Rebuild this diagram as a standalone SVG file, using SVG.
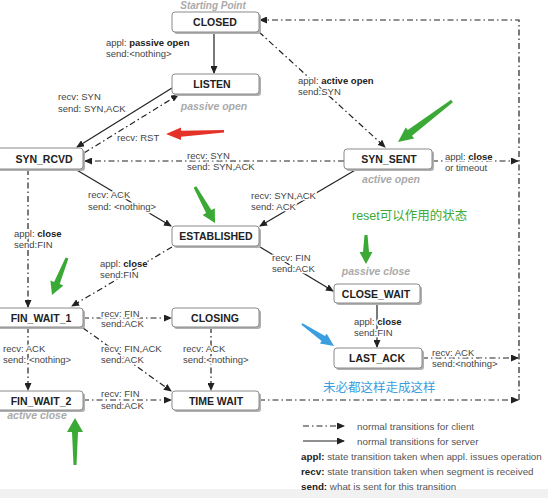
<svg xmlns="http://www.w3.org/2000/svg" width="548" height="498" viewBox="0 0 548 498">
<style>
.box{fill:#fff;stroke:#8a8a8a;stroke-width:1}
.sh{fill:#b0b0b0}
.nl{font:bold 10.5px "Liberation Sans",Arial,sans-serif;fill:#222;text-anchor:middle}
.lbl{font:9.5px "Liberation Sans",Arial,sans-serif;fill:#444;stroke:#fff;stroke-width:3;stroke-linejoin:round;paint-order:stroke}
.b{font-weight:bold;fill:#222}
.it{font:italic bold 10.5px "Liberation Sans",Arial,sans-serif;fill:#aaa;text-anchor:middle}
.solid{stroke:#222;stroke-width:1.2;fill:none}
.dd{stroke:#222;stroke-width:1.2;fill:none;stroke-dasharray:6 3 1.5 3}
.leg{font:9.8px "Liberation Sans",Arial,sans-serif;fill:#555}
.legb{font-weight:bold;fill:#222}
.cjk{font-family:"Liberation Sans","Noto Sans CJK SC",sans-serif;font-size:12.5px}
</style>
<defs>
<marker id="arr" markerUnits="userSpaceOnUse" markerWidth="8" markerHeight="7" refX="7" refY="3.5" orient="auto">
<path d="M0,0 L8,3.5 L0,7 z" fill="#222"/>
</marker>
</defs>
<rect width="548" height="498" fill="#fff"/>
<rect x="0" y="489" width="548" height="9" fill="#f1f1f1"/>

<g id="connectors">
<path class="solid" d="M214,32 V73" marker-end="url(#arr)"/>
<path class="solid" d="M172,88 L77,147" marker-end="url(#arr)"/>
<path class="dd" d="M84,153 L178,95" marker-end="url(#arr)"/>
<path class="dd" d="M344,161 H85" marker-end="url(#arr)"/>
<path class="dd" d="M259,32 L385,147" marker-end="url(#arr)"/>
<path class="solid" d="M75,169 L171,226" marker-end="url(#arr)"/>
<path class="solid" d="M357,169 L260,226" marker-end="url(#arr)"/>
<path class="dd" d="M28,169 V307" marker-end="url(#arr)"/>
<path class="dd" d="M172,247 L72,306" marker-end="url(#arr)"/>
<path class="solid" d="M260,247 L333,291" marker-end="url(#arr)"/>
<path class="solid" d="M377,303 V347" marker-end="url(#arr)"/>
<path class="dd" d="M422,358 H518" marker-end="url(#arr)"/>
<path class="dd" d="M83,318 H171" marker-end="url(#arr)"/>
<path class="dd" d="M83,328 L171,391" marker-end="url(#arr)"/>
<path class="dd" d="M211,327 V390" marker-end="url(#arr)"/>
<path class="dd" d="M28,327 V390" marker-end="url(#arr)"/>
<path class="dd" d="M83,400 H171" marker-end="url(#arr)"/>
<path class="dd" d="M259,400 H518" marker-end="url(#arr)"/>
<path class="dd" d="M432,161 H518" marker-end="url(#arr)"/>
<path class="dd" d="M519,400 V20 H260" marker-end="url(#arr)"/>

<text class="lbl" x="106" y="45.5">appl: <tspan class="b">passive open</tspan></text>
<text class="lbl" x="106" y="56.5">send:&lt;nothing&gt;</text>
<text class="lbl" x="58" y="100">recv: SYN</text>
<text class="lbl" x="58" y="111.5">send: SYN,ACK</text>
<text class="lbl" x="117" y="140.5">recv: RST</text>
<text class="lbl" x="187" y="159">recv: SYN</text>
<text class="lbl" x="187" y="169.5">send: SYN,ACK</text>
<text class="lbl" x="298" y="83.5">appl: <tspan class="b">active open</tspan></text>
<text class="lbl" x="298" y="94.5">send:SYN</text>
<text class="lbl" x="88" y="197.5">recv: ACK</text>
<text class="lbl" x="88" y="210">send: &lt;nothing&gt;</text>
<text class="lbl" x="251" y="198.5">recv: SYN,ACK</text>
<text class="lbl" x="251" y="209.5">send: ACK</text>
<text class="lbl" x="14" y="236.5">appl: <tspan class="b">close</tspan></text>
<text class="lbl" x="14" y="247.5">send:FIN</text>
<text class="lbl" x="100" y="266.5">appl: <tspan class="b">close</tspan></text>
<text class="lbl" x="100" y="278">send:FIN</text>
<text class="lbl" x="272" y="260.5">recv: FIN</text>
<text class="lbl" x="272" y="271.5">send:ACK</text>
<text class="lbl" x="354" y="324.5">appl: <tspan class="b">close</tspan></text>
<text class="lbl" x="354" y="335.5">send:FIN</text>
<text class="lbl" x="432" y="355.5">recv: ACK</text>
<text class="lbl" x="432" y="367">send:&lt;nothing&gt;</text>
<text class="lbl" x="101" y="316.5">recv: FIN</text>
<text class="lbl" x="101" y="327">send:ACK</text>
<text class="lbl" x="101" y="351.5">recv: FIN,ACK</text>
<text class="lbl" x="101" y="362.5">send:ACK</text>
<text class="lbl" x="183" y="351.5">recv: ACK</text>
<text class="lbl" x="183" y="363">send:&lt;nothing&gt;</text>
<text class="lbl" x="3" y="351.5">recv: ACK</text>
<text class="lbl" x="3" y="363">send: &lt;nothing&gt;</text>
<text class="lbl" x="101" y="396.5">recv: FIN</text>
<text class="lbl" x="101" y="409">send:ACK</text>
<text class="lbl" x="445" y="159.5">appl: <tspan class="b">close</tspan></text>
<text class="lbl" x="445" y="170.5">or timeout</text>
</g>

<g id="CLOSED">
<text class="it" x="213" y="9" style="font-size:10px">Starting Point</text>
<rect class="sh" x="174" y="14" width="87" height="20" rx="3"/>
<rect class="box" x="172" y="12" width="87" height="20" rx="3"/>
<text class="nl" x="215" y="26">CLOSED</text>
</g>
<g id="LISTEN">
<rect class="sh" x="174" y="76" width="87" height="20" rx="3"/>
<rect class="box" x="172" y="74" width="87" height="20" rx="3"/>
<text class="nl" x="212" y="88">LISTEN</text>
<text class="it" x="214" y="109.5">passive open</text>
</g>
<g id="SYN_RCVD">
<rect class="sh" x="-2" y="150" width="87" height="21" rx="3"/>
<rect class="box" x="-4" y="148" width="87" height="21" rx="3"/>
<text class="nl" x="44" y="162.5">SYN_RCVD</text>
</g>
<g id="SYN_SENT">
<rect class="sh" x="346" y="151" width="88" height="20" rx="3"/>
<rect class="box" x="344" y="149" width="88" height="20" rx="3"/>
<text class="nl" x="389" y="163">SYN_SENT</text>
<text class="it" x="391" y="182.5">active open</text>
</g>
<g id="ESTABLISHED">
<rect class="sh" x="174" y="228" width="87" height="20" rx="3"/>
<rect class="box" x="172" y="226" width="87" height="20" rx="3"/>
<text class="nl" x="216" y="240">ESTABLISHED</text>
</g>
<g id="CLOSE_WAIT">
<text class="it" x="376" y="274.5">passive close</text>
<rect class="sh" x="336" y="286" width="86" height="19" rx="3"/>
<rect class="box" x="334" y="284" width="86" height="19" rx="3"/>
<text class="nl" x="376" y="297.5">CLOSE_WAIT</text>
</g>
<g id="LAST_ACK">
<rect class="sh" x="336" y="350" width="88" height="20" rx="3"/>
<rect class="box" x="334" y="348" width="88" height="20" rx="3"/>
<text class="nl" x="377" y="362">LAST_ACK</text>
</g>
<g id="FIN_WAIT_1">
<rect class="sh" x="-2" y="310" width="87" height="19" rx="3"/>
<rect class="box" x="-4" y="308" width="87" height="19" rx="3"/>
<text class="nl" x="41" y="321.5">FIN_WAIT_1</text>
</g>
<g id="CLOSING">
<rect class="sh" x="174" y="310" width="87" height="19" rx="3"/>
<rect class="box" x="172" y="308" width="87" height="19" rx="3"/>
<text class="nl" x="215" y="321.5">CLOSING</text>
</g>
<g id="FIN_WAIT_2">
<rect class="sh" x="-2" y="393" width="87" height="19" rx="3"/>
<rect class="box" x="-4" y="391" width="87" height="19" rx="3"/>
<text class="nl" x="41" y="404.5">FIN_WAIT_2</text>
<text class="it" x="37" y="418.5">active close</text>
</g>
<g id="TIME_WAIT">
<rect class="sh" x="174" y="393" width="87" height="19" rx="3"/>
<rect class="box" x="172" y="391" width="87" height="19" rx="3"/>
<text class="nl" x="216" y="404.5">TIME WAIT</text>
</g>

<g id="legend">
<path class="dd" d="M303,426 H344" marker-end="url(#arr)"/>
<path class="solid" d="M303,441 H344" marker-end="url(#arr)"/>
<text class="leg" x="357" y="429.5">normal transitions for client</text>
<text class="leg" x="357" y="444.5">normal transitions for server</text>
<text class="leg" x="301" y="459.5"><tspan class="legb">appl:</tspan> state transition taken when appl. issues operation</text>
<text class="leg" x="301" y="474.5"><tspan class="legb">recv:</tspan> state transition taken when segment is received</text>
<text class="leg" x="301" y="489.5"><tspan class="legb">send:</tspan> what is sent for this transition</text>
</g>

<g id="annotations">
<polygon fill="#e53228" points="166,134 181,127.5 181,130.8 224,130 224,132.5 181,136.8 181,140"/>
<polygon fill="#3aa935" points="398,142 414.2,138.5 412,135.7 452.9,102.2 451.1,99.8 407.8,130.1 405.7,127.4"/>
<polygon fill="#3aa935" points="215,223 202.6,215 206.1,213.1 193.7,187.7 196.3,186.3 211.3,210.1 214.8,208.2"/>
<polygon fill="#3aa935" points="52,295 50.4,280.4 54.1,281.9 65.6,257.4 68.4,258.6 59.7,284.1 63.4,285.6"/>
<polygon fill="#3aa935" points="75,418 83,432 78,432 76.5,465 73.5,465 72,432 67,432"/>
<polygon fill="#3aa935" points="366,264 372.5,252 369,252 367.5,235 364.5,235 363,252 359.5,252"/>
<polygon fill="#3a9ee0" points="334,346 319.9,343.5 321.6,341.1 301.4,324.8 302.6,323.2 325,336.1 326.7,333.7"/>
<text class="cjk" x="352" y="219.5" fill="#3aa935">reset可以作用的状态</text>
<text class="cjk" x="323" y="391.5" fill="#3a9ee0">未必都这样走成这样</text>
</g>
</svg>
